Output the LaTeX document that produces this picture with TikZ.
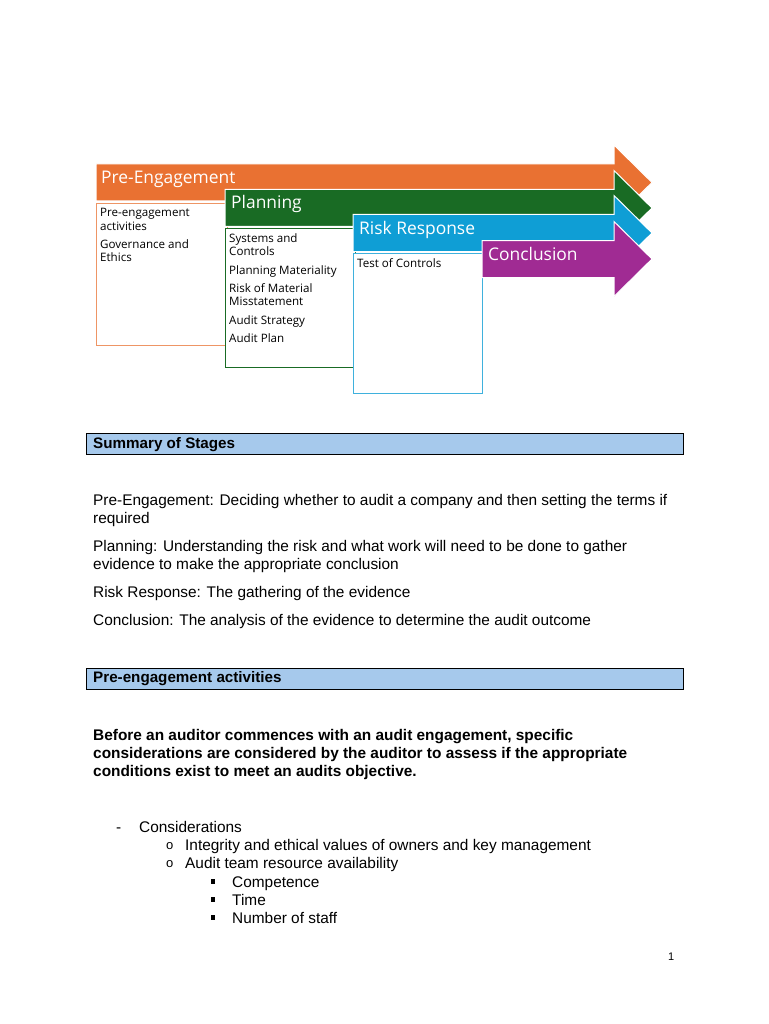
\documentclass[tikz,border=0pt]{standalone}
\usepackage{fontspec}
\setmainfont{Liberation Sans}
\newfontfamily\aptos{Open Sans}
\definecolor{aorange}{HTML}{E97132}
\definecolor{agreen}{HTML}{196B24}
\definecolor{ablue}{HTML}{0F9ED5}
\definecolor{apurple}{HTML}{A02B93}
\definecolor{hdrblue}{HTML}{A6C9EC}
\begin{document}
\begin{tikzpicture}[x=1pt,y=-1pt,
  arrowshape/.style={draw=white,line width=1pt},
  arrowlabel/.style={anchor=base west,inner sep=0pt,text=white,font=\aptos\fontsize{17.4}{18}\selectfont},
  boxtext/.style={anchor=base west,inner sep=0pt,font=\aptos\fontsize{11.6}{13}\selectfont},
  contentbox/.style={fill=white,line width=0.9pt},
  hdr/.style={draw=black,fill=hdrblue,line width=0.8pt},
  hdrtext/.style={anchor=base west,inner sep=0pt,font=\bfseries\fontsize{15.2}{16}\selectfont},
  body/.style={anchor=base west,inner sep=0pt,font=\fontsize{15.4}{16}\selectfont},
  bodybold/.style={anchor=base west,inner sep=0pt,font=\bfseries\fontsize{15.4}{16}\selectfont},
  obullet/.style={anchor=base west,inner sep=0pt,font=\fontsize{13}{14}\selectfont},
]
\useasboundingbox (0,0) rectangle (768,1024);
\fill[white] (0,0) rectangle (768,1024);
% orange arrow
\fill[aorange,arrowshape] (96,164) -- (614,164) -- (614,145) -- (652,182.5) -- (614,220) -- (614,201) -- (96,201) -- cycle;
\node[arrowlabel] (pe) at (101,184) {Pre-Engagement};
\draw[contentbox,draw=aorange!75] (96,203) rectangle (227,345);
\node[boxtext] (pe1) at (100,217) {Pre-engagement};
\node[boxtext] (pe1b) at (100,230) {activities};
\node[boxtext] (pe2) at (100,248) {Governance and};
\node[boxtext] (pe2b) at (100,261) {Ethics};
% green arrow
\fill[agreen,arrowshape] (225,189.5) -- (614,189.5) -- (614,170.5) -- (652,208) -- (614,245.5) -- (614,226.5) -- (225,226.5) -- cycle;
\node[arrowlabel] (pl) at (231,209) {Planning};
\draw[contentbox,draw=agreen] (225,228) rectangle (355,367);
\node[boxtext] (pl1) at (229,242) {Systems and};
\node[boxtext] (pl1b) at (229,255) {Controls};
\node[boxtext] (pl2) at (229,274) {Planning Materiality};
\node[boxtext] (pl3) at (229,292) {Risk of Material};
\node[boxtext] (pl3b) at (229,305) {Misstatement};
\node[boxtext] (pl4) at (229,324) {Audit Strategy};
\node[boxtext] (pl5) at (229,342) {Audit Plan};
% blue arrow
\fill[ablue,arrowshape] (353,214.5) -- (614,214.5) -- (614,195.5) -- (652,233) -- (614,270.5) -- (614,251.5) -- (353,251.5) -- cycle;
\node[arrowlabel] (rr) at (359,234) {Risk Response};
\draw[contentbox,draw=ablue!80] (353,253) rectangle (482,393);
\node[boxtext] (rr1) at (357,267) {Test of Controls};
% purple arrow
\fill[apurple,arrowshape] (482,240.5) -- (614,240.5) -- (614,221.5) -- (652,259) -- (614,296.5) -- (614,277.5) -- (482,277.5) -- cycle;
\node[arrowlabel] (co) at (488,260) {Conclusion};
% summary header
\draw[hdr] (86,433) rectangle (683,454);
\node[hdrtext] (h1) at (93,448) {Summary of Stages};
\node[body] (s1) at (93,505) {Pre-Engagement: Deciding whether to audit a company and then setting the terms if};
\node[body] (s1b) at (93,523) {required};
\node[body] (s2) at (93,551) {Planning: Understanding the risk and what work will need to be done to gather};
\node[body] (s2b) at (93,569) {evidence to make the appropriate conclusion};
\node[body] (s3) at (93,597) {Risk Response: The gathering of the evidence};
\node[body] (s4) at (93,625) {Conclusion: The analysis of the evidence to determine the audit outcome};
% pre-engagement header
\draw[hdr] (86,668) rectangle (683,689);
\node[hdrtext] (h2) at (93,682) {Pre-engagement activities};
\node[bodybold] (b1) at (93,740) {Before an auditor commences with an audit engagement, specific};
\node[bodybold] (b2) at (93,758) {considerations are considered by the auditor to assess if the appropriate};
\node[bodybold] (b3) at (93,776) {conditions exist to meet an audits objective.};
% list
\node[body] (d1) at (116,832) {-};
\node[body] (l1) at (139,832) {Considerations};
\node[obullet] (o1) at (166,849) {o};
\node[body] (l2) at (185,850) {Integrity and ethical values of owners and key management};
\node[obullet] (o2) at (166,867) {o};
\node[body] (l3) at (185,868) {Audit team resource availability};
\fill (211,879) rectangle (215,884);
\node[body] (l4) at (232,887) {Competence};
\fill (211,897) rectangle (215,902);
\node[body] (l5) at (232,905) {Time};
\fill (211,915) rectangle (215,920);
\node[body] (l6) at (232,923) {Number of staff};
\node[anchor=base west,inner sep=0pt,font=\fontsize{11}{13}\selectfont] (pg) at (668,960) {1};
\end{tikzpicture}
\end{document}
